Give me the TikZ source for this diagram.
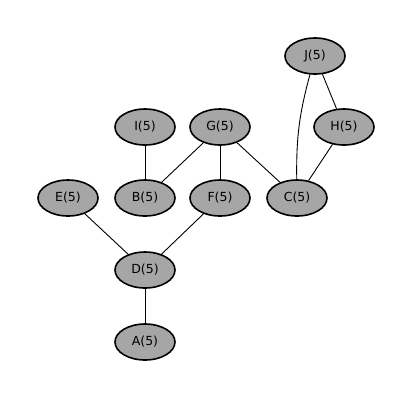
\documentclass[tikz,border=0pt]{standalone}
\usepackage{fontspec}
\setmainfont{DejaVu Sans}
\usepackage{tikz}
\usetikzlibrary{shapes.geometric,positioning}
\tikzset{
  vert/.style={ellipse, draw=black, line width=1.6pt, fill=black!35,
    minimum width=60pt, minimum height=36pt, inner sep=0pt, font=\fontsize{12.5}{14}\selectfont},
  link/.style={black, line width=0.9pt}
}

\begin{document}
\begin{tikzpicture}[x=1pt,y=-1pt]
\useasboundingbox (0,0) rectangle (415,400);
\node[vert] (J) at (315,56) {J(5)};
\node[vert] (H) at (344,127) {H(5)};
\node[vert] (I) at (145,127) {I(5)};
\node[vert] (G) at (220,127) {G(5)};
\node[vert] (E) at (68,198) {E(5)};
\node[vert] (B) at (145,198) {B(5)};
\node[vert] (F) at (220,198) {F(5)};
\node[vert] (C) at (297,198) {C(5)};
\node[vert] (D) at (145,270) {D(5)};
\node[vert] (A) at (145,342) {A(5)};
\draw[link] (J) to [bend right=8] (C);
\draw[link] (J) -- (H);
\draw[link] (H) -- (C);
\draw[link] (G) -- (C);
\draw[link] (G) -- (F);
\draw[link] (G) -- (B);
\draw[link] (I) -- (B);
\draw[link] (E) -- (D);
\draw[link] (F) -- (D);
\draw[link] (D) -- (A);
\end{tikzpicture}
\end{document}
